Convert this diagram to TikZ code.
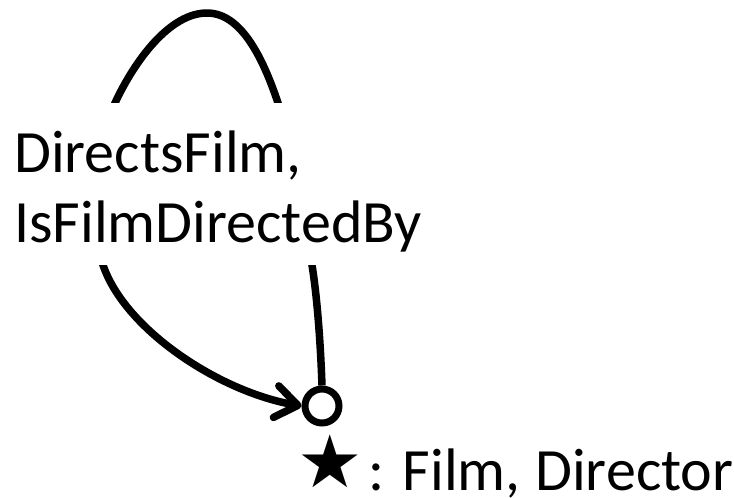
\documentclass[tikz,border=0pt]{standalone}
\usepackage{fontspec}
\setmainfont{Carlito}
\newfontfamily\djv{DejaVu Sans}
\usetikzlibrary{arrows.meta}
\begin{document}
\begin{tikzpicture}[x=1pt,y=-1pt,
  ink/.style={line width=7.5pt, line join=round},
  vertex/.style={circle, draw, line width=7pt, minimum size=34pt, inner sep=0pt, fill=white},
  edgelabel/.style={fill=white, inner xsep=0pt, inner ysep=0pt, align=left, anchor=north west,
    font=\fontsize{60}{70}\selectfont},
  classlabel/.style={anchor=base west, inner sep=0pt, font=\fontsize{60}{70}\selectfont}]
\useasboundingbox (0,0) rectangle (734,498);
\node[vertex] (v) at (322,406) {};
\draw[ink, -{Straight Barb[length=22pt,width=32pt,round]}]
  (v.north) .. controls (320,330) and (316,290) .. (312,265)
  .. controls (307,215) and (292,150) .. (278,103)
  .. controls (262,55) and (240,13) .. (207,13)
  .. controls (170,13) and (135,60) .. (115,103)
  .. controls (100,140) and (88,220) .. (103,265)
  .. controls (125,330) and (220,392) .. (v.west);
\node[edgelabel] (lbl) at (14,103) {\rule{0pt}{69pt}DirectsFilm,\\IsFilmDirectedBy\rule[-23pt]{0pt}{0pt}};
\node[classlabel] (cls) at (297,490) {\raisebox{3pt}{\djv\fontsize{73}{73}\selectfont ★}\hspace{6pt}: Film,\hspace{1pt} Director};
\end{tikzpicture}
\end{document}
